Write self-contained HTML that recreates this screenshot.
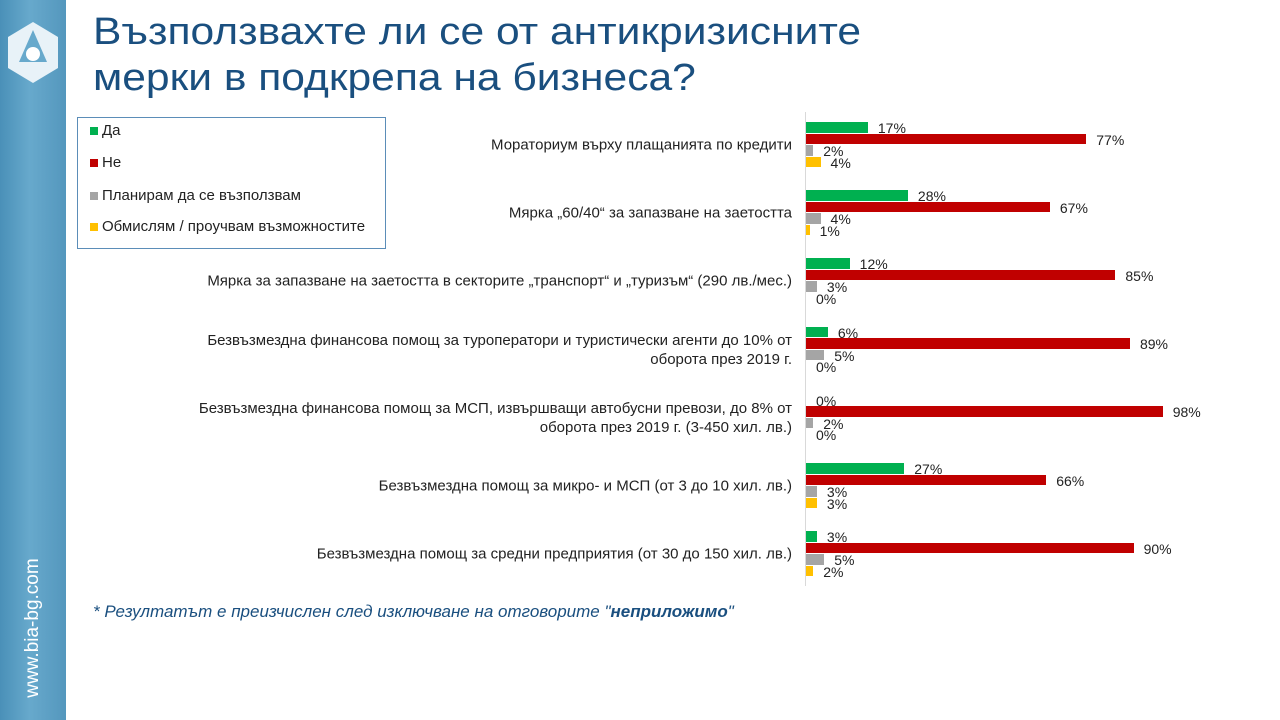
<!DOCTYPE html>
<html><head><meta charset="utf-8"><style>
body{margin:0;width:1280px;height:720px;position:relative;overflow:hidden;background:#fff;font-family:"Liberation Sans",sans-serif}
.side{position:absolute;left:0;top:0;width:66px;height:720px;background:linear-gradient(90deg,#4a90b8,#67a9cc 45%,#5497bd)}
.url{position:absolute;left:33px;top:628px;transform:translate(-50%,-50%) rotate(-90deg);color:#fff;font-size:19px;white-space:nowrap}
.title{position:absolute;left:93px;top:9px;color:#1a4f7f;font-size:38px;line-height:46px;transform:scaleX(1.12);transform-origin:0 0;white-space:nowrap}
.leg{position:absolute;left:77px;top:117px;width:309px;height:132px;border:1px solid #5b8db8;box-sizing:border-box;font-size:15px;color:#222}
.leg div{position:absolute;left:12px;white-space:nowrap}
.leg i{display:inline-block;width:8px;height:8px;margin-right:4px}
.lab{position:absolute;right:488px;text-align:right;font-size:15px;color:#222;line-height:19px;transform:translateY(-50%);white-space:nowrap}
.bar{position:absolute;left:806px;height:10.5px}
.val{position:absolute;font-size:14px;color:#222;transform:translateY(-50%)}
.foot{position:absolute;left:93px;top:602px;font-size:17px;font-style:italic;color:#1a4f7f;white-space:nowrap}
</style></head><body>
<div class="side">
<svg width="66" height="100" style="position:absolute;left:0;top:0">
<polygon points="33,22 58,37 58,68 33,83 8,68 8,37" fill="#e8f2f8"/>
<polygon points="33,30 47,62 19,62" fill="#67a9cc"/>
<circle cx="33" cy="54" r="7" fill="#fff"/>
</svg>
<div class="url">www.bia-bg.com</div>
</div>
<div class="title">Възползвахте ли се от антикризисните<br>мерки в подкрепа на бизнеса?</div>
<div class="leg">
<div style="top:4px"><i style="background:#00b050"></i>Да</div>
<div style="top:36px"><i style="background:#c00000"></i>Не</div>
<div style="top:69px"><i style="background:#a5a5a5"></i>Планирам да се възползвам</div>
<div style="top:100px"><i style="background:#ffc000"></i>Обмислям / проучвам възможностите</div>
</div>
<div style="position:absolute;left:805px;top:112px;width:1px;height:474px;background:#d9d9d9"></div>
<div id="c"></div>
<div class="foot">* Резултатът е преизчислен след изключване на отговорите "<b>неприложимо</b>"</div>
<script>
var L=["Мораториум върху плащанията по кредити","Мярка „60/40“ за запазване на заетостта","Мярка за запазване на заетостта в секторите „транспорт“ и „туризъм“ (290 лв./мес.)","Безвъзмездна финансова помощ за туроператори и туристически агенти до 10% от<br>оборота през 2019 г.","Безвъзмездна финансова помощ за МСП, извършващи автобусни превози, до 8% от<br>оборота през 2019 г. (3-450 хил. лв.)","Безвъзмездна помощ за микро- и МСП (от 3 до 10 хил. лв.)","Безвъзмездна помощ за средни предприятия (от 30 до 150 хил. лв.)"];
var D=[[17,77,2,4],[28,67,4,1],[12,85,3,0],[6,89,5,0],[0,98,2,0],[27,66,3,3],[3,90,5,2]];
var C=["#00b050","#c00000","#a5a5a5","#ffc000"];var h="";
for(var i=0;i<7;i++){var g=122+68.2*i;
h+='<div class="lab" style="top:'+(g+23)+'px">'+L[i]+'</div>';
for(var j=0;j<4;j++){var y=g+j*11.5,w=D[i][j]*3.64;
h+='<div class="bar" style="top:'+y+'px;width:'+w+'px;background:'+C[j]+'"></div>';
h+='<div class="val" style="top:'+(y+6)+'px;left:'+(806+w+10)+'px">'+D[i][j]+'%</div>';}}
document.getElementById("c").innerHTML=h;
</script>
</body></html>
